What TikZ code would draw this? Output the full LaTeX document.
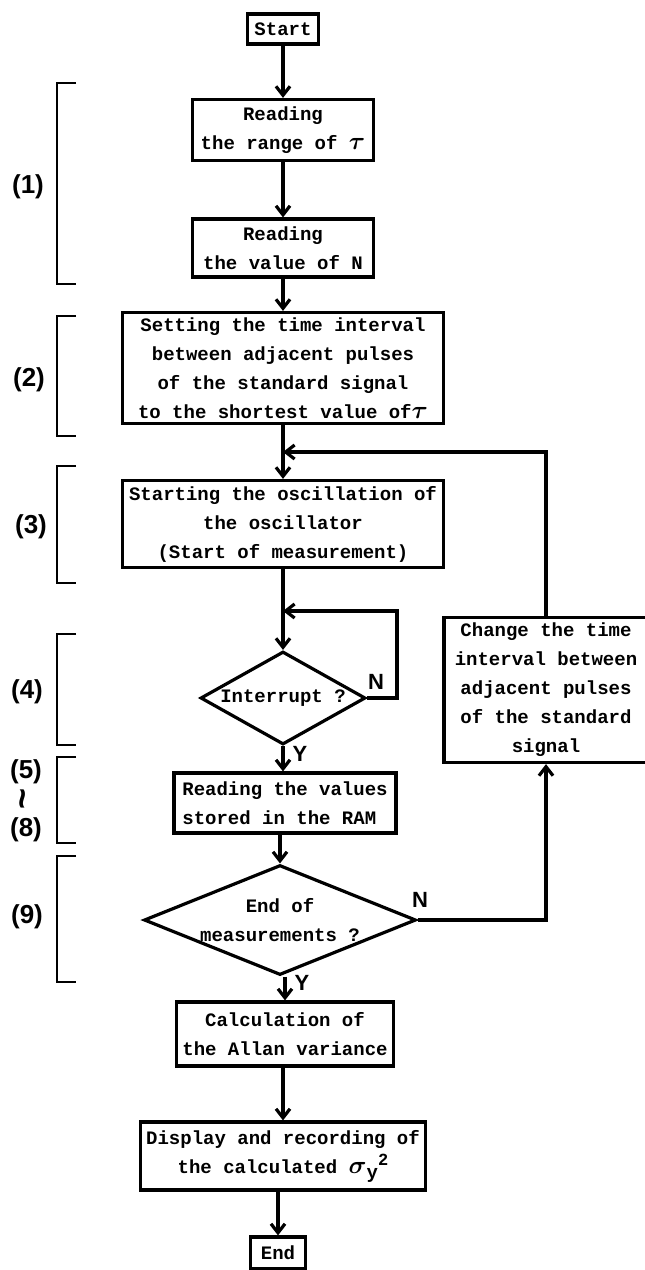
\documentclass[tikz,border=0pt]{standalone}
\usepackage{amsmath}
\usepackage{fontspec}
\setmonofont{Liberation Mono}
\setsansfont{Liberation Sans}
\usepackage{tikz}
\usetikzlibrary{shapes.geometric,arrows.meta}
\newcommand{\boxfont}{\ttfamily\bfseries\fontsize{19}{29}\selectfont}
\newcommand{\tagfont}{\sffamily\bfseries\fontsize{26}{30}\selectfont}
\newcommand{\bigsym}[1]{{\fontsize{24}{29}\selectfont$\boldsymbol{#1}$}}
\tikzset{proc/.style={draw,line width=3.2pt,align=center,inner sep=3pt,font=\boxfont},
decide/.style={diamond,draw,line width=3.2pt,align=center,inner sep=0pt,font=\boxfont},
tag/.style={font=\tagfont},yn/.style={font=\sffamily\bfseries\fontsize{22}{24}\selectfont}}

\begin{document}
\begin{tikzpicture}[x=1pt,y=-1pt,line width=3.2pt,>={Straight Barb[length=9pt,width=14pt]}]
\useasboundingbox (0,0) rectangle (645,1270);

\node[proc,minimum width=71,minimum height=30] (start) at (283,29) {Start};
\node[proc,minimum width=181,minimum height=61] (rt) at (283,130) {Reading\\the range of \bigsym{\tau}};
\node[proc,minimum width=181,minimum height=58] (rn) at (283,248) {Reading\\the value of N};
\node[proc,minimum width=321,minimum height=111] (set) at (283,368) {Setting the time interval\\between adjacent pulses\\of the standard signal\\to the shortest value of\bigsym{\tau}};
\node[proc,minimum width=321,minimum height=87] (osc) at (283,524) {Starting the oscillation of\\the oscillator\\(Start of measurement)};
\node[decide,minimum width=165,minimum height=93,shape aspect=1.77] (intr) at (283,698) {Interrupt ?};
\node[proc,minimum width=222,minimum height=60,align=left] (rv) at (285,803) {Reading the values\\stored in the RAM};
\node[decide,minimum width=272,minimum height=110,shape aspect=2.4] (endm) at (280,920) {End of\\measurements ?};
\node[proc,minimum width=204,minimum height=145] (chg) at (546,690) {Change the time\\interval between\\adjacent pulses\\of the standard\\signal};
\node[proc,minimum width=217,minimum height=64] (calc) at (285,1034) {Calculation of\\the Allan variance};
\node[proc,minimum width=285,minimum height=68] (disp) at (283,1156) {Display and recording of\\the calculated \bigsym{\sigma}\raisebox{-5pt}{y}\raisebox{8pt}{\fontsize{17}{29}\selectfont 2}};
\node[proc,minimum width=55,minimum height=32] (stop) at (278,1253) {End};

\node[yn] (n1) at (376,682) {N};
\node[yn] (y1) at (300,754) {Y};
\node[yn] (n2) at (420,900) {N};
\node[yn] (y2) at (302,983) {Y};

\coordinate (mrg) at (283,452);
\coordinate (lp) at (283,611);
\coordinate (lpr) at (397,611);

\draw[->] (start) -- (rt);
\draw[->] (rt) -- (rn);
\draw[->] (rn) -- (set);
\draw[->] (set) -- (osc);
\draw[->] (osc) -- (intr);
\draw[->] (intr.east) -| (lpr) -- (lp);
\draw[->] (intr) -- (intr |- rv.north);
\draw[->] (rv.south -| endm) -- (endm);
\draw[->] (endm.east) -| (chg.south);
\draw[->] (chg.north) |- (mrg);
\draw[->] (endm.south -| calc) -- (calc);
\draw[->] (calc.south -| disp) -- (disp);
\draw[->] (disp.south -| stop) -- (stop);

% steps of the program
\foreach \a/\b in {83/284,316/436,466/583,634/745,757/843,856/982}
  \draw[line width=2pt] (76,\a) -| (57,\b) -- (76,\b);
\node[tag] (g1) at (28,187) {(1)};
\node[tag] (g2) at (29,380) {(2)};
\node[tag] (g3) at (31,527) {(3)};
\node[tag] (g4) at (27,692) {(4)};
\node[tag] (g5) at (26,772) {(5)};
\node[tag,rotate=90,font=\sffamily\bfseries\fontsize{36}{36}\selectfont] (g6) at (27,799) {\textasciitilde};
\node[tag] (g8) at (26,830) {(8)};
\node[tag] (g9) at (27,917) {(9)};
\end{tikzpicture}
\end{document}
